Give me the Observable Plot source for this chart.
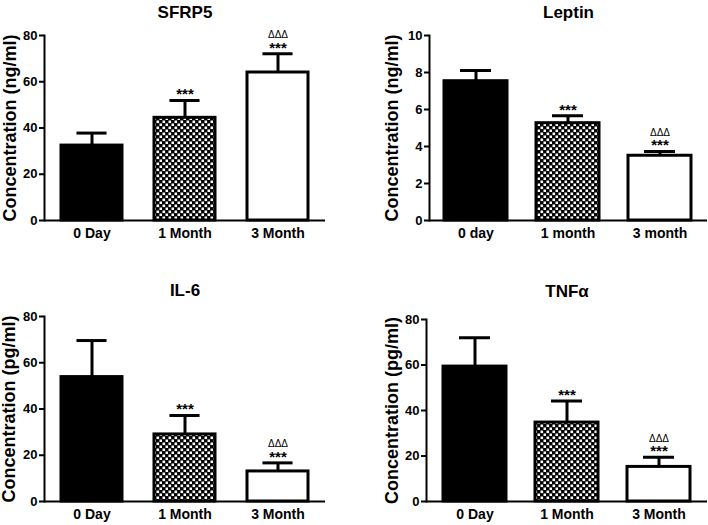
<!DOCTYPE html>
<html><head><meta charset="utf-8">
<script src="https://cdn.jsdelivr.net/npm/d3@7"></script>
<script src="https://cdn.jsdelivr.net/npm/@observablehq/plot@0.6"></script>
<style>
body{margin:0;background:#fff;}
#root{position:relative;width:708px;height:525px;background:#fff;}
.panel{position:absolute;}
</style></head><body><div id="root"></div>
<script>
// ---- data ----
const groupsUpper = ["0 Day", "1 Month", "3 Month"];
const groupsLower = ["0 day", "1 month", "3 month"];
const sfrp5Mean = [32.4, 44.4, 64.0];
const sfrp5Err  = [5.4, 7.5, 8.1];
const leptinMean = [7.53, 5.26, 3.50];
const leptinErr  = [0.58, 0.40, 0.23];
const il6Mean = [53.8, 29.0, 13.0];
const il6Err  = [15.8, 8.2, 3.7];
const tnfMean = [59.3, 34.7, 15.2];
const tnfErr  = [12.7, 9.5, 4.2];
const starMarks  = ["", "***", "***"];
const deltaMarks = ["", "", "ΔΔΔ"];
const ticks80 = [0, 20, 40, 60, 80];
const ticks10 = [0, 2, 4, 6, 8, 10];

const FONT = "'Liberation Sans', Arial, Helvetica, sans-serif";
const root = document.getElementById("root");

function panel(o) {
  const pid = "checker-" + o.id;
  const fills = ["black", `url(#${pid})`, "white"];
  const rows = o.groups.map((g, i) => ({
    g, mean: o.mean[i], hi: o.mean[i] + o.err[i],
    star: starMarks[i], delta: deltaMarks[i], fill: fills[i]
  }));
  const frameW = o.width - o.mL - o.mR;
  const step = frameW / (3 - o.pIn + 2 * o.pOut);
  const bw = step * (1 - o.pIn);
  const capInset = bw / 4;
  const svg = Plot.plot({
    width: o.width, height: o.height,
    marginLeft: o.mL, marginRight: o.mR, marginTop: o.mT, marginBottom: o.mB,
    style: {fontFamily: FONT, fontWeight: "bold", background: "white", overflow: "visible", color: "black"},
    x: {domain: o.groups, paddingInner: o.pIn, paddingOuter: o.pOut, label: null},
    y: {domain: [0, o.yMax], label: null},
    color: {type: "identity"},
    marks: [
      Plot.ruleX(rows, {x: "g", y1: "mean", y2: "hi", stroke: "black", strokeWidth: 3}),
      Plot.tickY(rows, {x: "g", y: "hi", stroke: "black", strokeWidth: 3, inset: capInset}),
      Plot.barY(rows, {x: "g", y: "mean", fill: "fill", stroke: "black", strokeWidth: 3}),
      Plot.ruleY([0], {stroke: "black", strokeWidth: 2}),
      Plot.frame({anchor: "left", stroke: "black", strokeWidth: 2}),
      Plot.axisY({ticks: o.yTicks, tickSize: 5, tickPadding: 2, fontSize: 13, strokeWidth: 2, label: null}),
      Plot.axisX({tickSize: 0, tickPadding: 8, fontSize: 14, label: null}),
      Plot.text(rows, {x: "g", y: "hi", text: "star", dy: -6, fontSize: 15, lineAnchor: "middle"}),
      Plot.text(rows, {x: "g", y: "hi", text: "delta", dy: -19, fontSize: 10, fontWeight: "normal", lineAnchor: "middle"}),
      Plot.text([o.title], {frameAnchor: "top", dy: o.titleDy, fontSize: 17, lineAnchor: "middle", textAnchor: "middle"}),
      Plot.text([o.yLabel], {frameAnchor: "left", rotate: -90, dx: o.labelDx, fontSize: 18, lineAnchor: "middle", textAnchor: "middle"})
    ]
  });
  const defs = d3.select(svg).insert("defs", ":first-child");
  const pat = defs.append("pattern").attr("id", pid).attr("patternUnits", "userSpaceOnUse")
    .attr("width", 6).attr("height", 6);
  pat.append("rect").attr("width", 6).attr("height", 6).attr("fill", "black");
  pat.append("rect").attr("x", 0.5).attr("y", 0.5).attr("width", 2.6).attr("height", 2.6).attr("fill", "white");
  pat.append("rect").attr("x", 3.5).attr("y", 3.5).attr("width", 2.6).attr("height", 2.6).attr("fill", "white");
  const div = document.createElement("div");
  div.className = "panel";
  div.style.left = o.left + "px";
  div.style.top = o.top + "px";
  div.appendChild(svg);
  root.appendChild(div);
}

panel({id: 1, title: "SFRP5", groups: groupsUpper, mean: sfrp5Mean, err: sfrp5Err,
  yLabel: "Concentration (ng/ml)", yMax: 80, yTicks: ticks80,
  left: 0, top: 0, width: 354, height: 262, mL: 44, mR: 29, mT: 35, mB: 42,
  pIn: 0.34, pOut: 0.17, titleDy: -23, labelDx: -34});
panel({id: 2, title: "Leptin", groups: groupsLower, mean: leptinMean, err: leptinErr,
  yLabel: "Concentration (ng/ml)", yMax: 10, yTicks: ticks10,
  left: 354, top: 0, width: 354, height: 262, mL: 75, mR: 1, mT: 35, mB: 42,
  pIn: 0.31, pOut: 0.155, titleDy: -23, labelDx: -37});
panel({id: 3, title: "IL-6", groups: groupsUpper, mean: il6Mean, err: il6Err,
  yLabel: "Concentration (pg/ml)", yMax: 80, yTicks: ticks80,
  left: 0, top: 262, width: 354, height: 263, mL: 44, mR: 29, mT: 54, mB: 24,
  pIn: 0.34, pOut: 0.17, titleDy: -26, labelDx: -35});
panel({id: 4, title: "TNFα", groups: groupsUpper, mean: tnfMean, err: tnfErr,
  yLabel: "Concentration (pg/ml)", yMax: 80, yTicks: ticks80,
  left: 354, top: 262, width: 354, height: 263, mL: 72, mR: 1, mT: 57, mB: 24,
  pIn: 0.31, pOut: 0.17, titleDy: -28, labelDx: -34});
</script></body></html>
